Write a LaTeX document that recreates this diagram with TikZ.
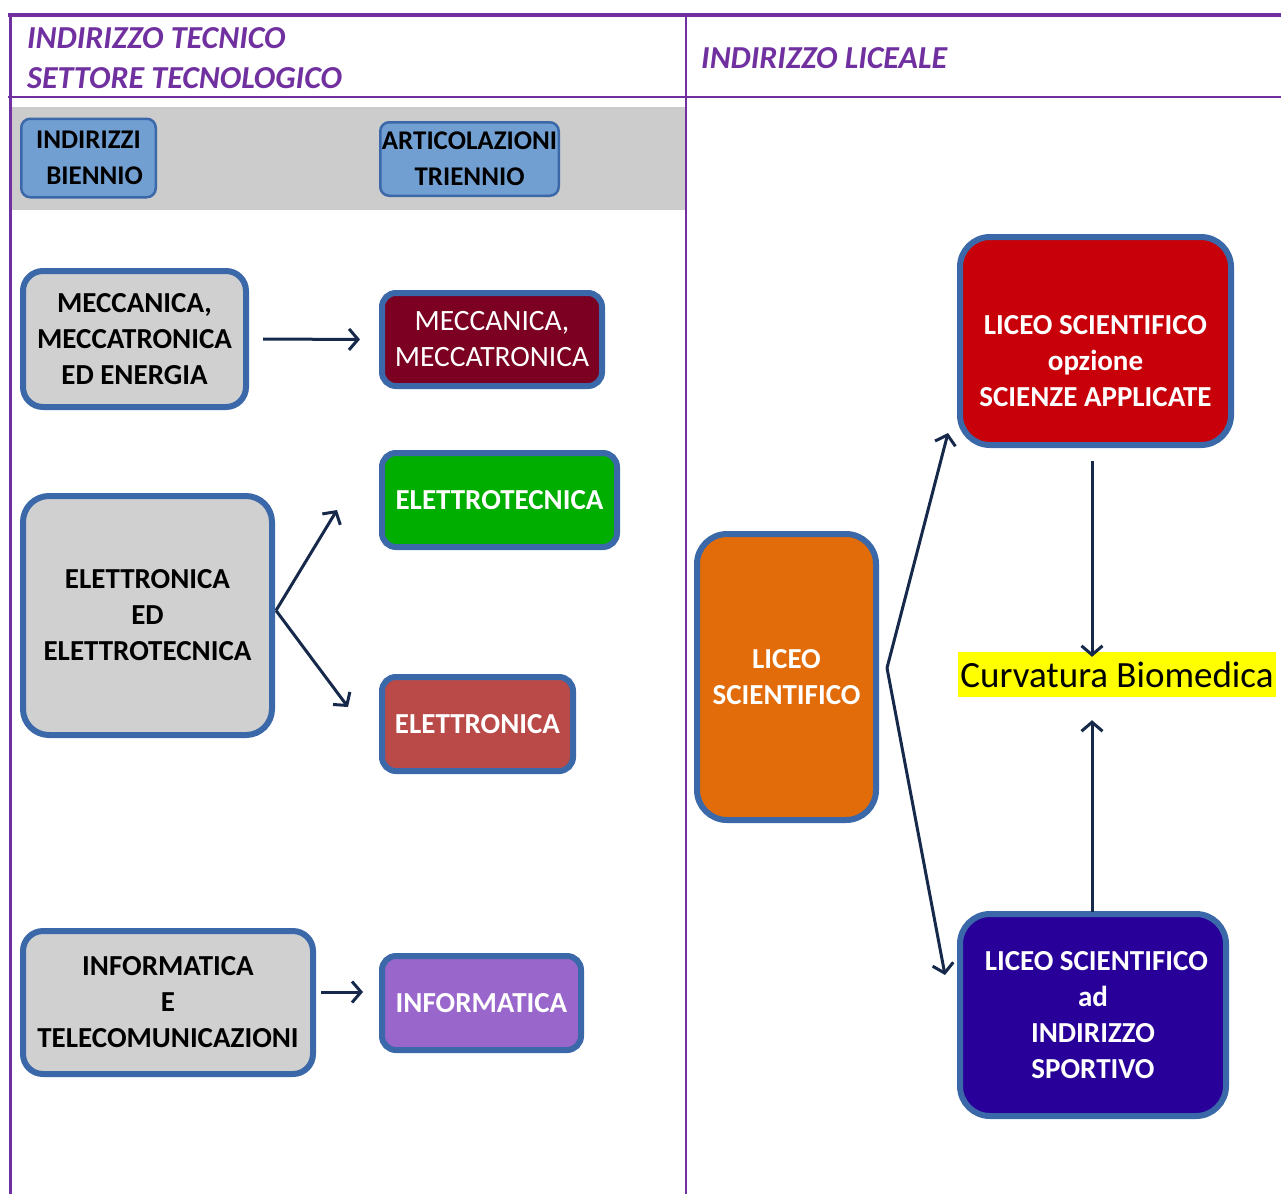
\documentclass[tikz,border=0pt]{standalone}
\usepackage{fontspec}
\setmainfont{Carlito}
\usetikzlibrary{arrows.meta,calc}
\definecolor{frame}{HTML}{7030A0}
\definecolor{bord}{HTML}{3A68A8}
\definecolor{lblue}{HTML}{729FD2}
\definecolor{lgray}{HTML}{D0D0D0}
\definecolor{band}{HTML}{CCCCCC}
\definecolor{maroon}{HTML}{7B0022}
\definecolor{grn}{HTML}{00AE00}
\definecolor{brick}{HTML}{B94A48}
\definecolor{lilac}{HTML}{9966CC}
\definecolor{orng}{HTML}{E36C0A}
\definecolor{rd}{HTML}{C8000A}
\definecolor{navy}{HTML}{280099}
\definecolor{arrc}{HTML}{17294A}
\definecolor{ylw}{HTML}{FFFF00}
\begin{document}
\begin{tikzpicture}[x=1pt,y=-1pt,
  box/.style={draw=bord, line width=6pt, rounded corners=#1, inner sep=0pt, align=center,
     font=\fontsize{29}{36}\selectfont\bfseries},
  box/.default=20pt,
  hdr/.style={draw=bord, line width=2.5pt, fill=lblue, rounded corners=9pt, inner sep=0pt, align=center,
     font=\fontsize{27}{36}\selectfont\bfseries},
  arr/.style={draw=arrc, line width=3pt, -{Straight Barb[length=9pt,width=21pt]}},
  ttl/.style={text=frame, font=\fontsize{32}{34}\selectfont\bfseries\itshape, anchor=base west, inner sep=0pt},
  wtxt/.style={text=white, align=center, inner sep=0pt, font=\fontsize{29}{36}\selectfont\bfseries}
]
\useasboundingbox (0,0) rectangle (1281,1194);
% frame
\fill[band] (12,107) rectangle (686,210);
\draw[frame, line width=4pt] (8,15) -- (1281,15);
\draw[frame, line width=2.5pt] (8,97) -- (1281,97);
\draw[frame, line width=3pt] (10,13) -- (10,1194);
\draw[frame, line width=2.5pt] (686,15) -- (686,1194);
\node[ttl] (t1) at (27,48) {INDIRIZZO TECNICO};
\node[ttl] (t2) at (27,88) {SETTORE TECNOLOGICO};
\node[ttl] (t3) at (701,68) {INDIRIZZO LICEALE};
% header boxes
\node[hdr, minimum width=134.5pt, minimum height=78.5pt] (bien) at (88.5,158) {INDIRIZZI\\\ \ BIENNIO};
\node[hdr, minimum width=178.5pt, minimum height=73.5pt] (trien) at (469.5,159) {ARTICOLAZIONI\\TRIENNIO};
% left column
\node[box, fill=lgray, minimum width=223pt, minimum height=136pt] (mecc) at (134.5,339) {MECCANICA,\\MECCATRONICA\\ED ENERGIA};
\node[box=14pt, fill=maroon, text=white, font=\fontsize{29.5}{36}\selectfont, minimum width=220pt, minimum height=93pt] (meccT) at (492,339.5) {MECCANICA,\\MECCATRONICA};
\node[box=26pt, fill=lgray, minimum width=249pt, minimum height=239pt] (elet) at (147.5,615.5) {ELETTRONICA\\ED\\ELETTROTECNICA};
\node[box=14pt, fill=grn, text=white, minimum width=235pt, minimum height=94pt] (etec) at (499.5,500) {ELETTROTECNICA};
\node[box=14pt, fill=brick, text=white, minimum width=191pt, minimum height=94pt] (eron) at (477.5,724) {ELETTRONICA};
\node[box, fill=lgray, minimum width=290pt, minimum height=143pt] (info) at (168,1002.5) {INFORMATICA\\E\\TELECOMUNICAZIONI};
\node[box=14pt, fill=lilac, text=white, minimum width=199pt, minimum height=94pt] (infT) at (481.5,1003) {INFORMATICA};
% right column
\node[box=30pt, fill=orng, text=white, minimum width=179pt, minimum height=286pt] (liceo) at (786.5,677) {LICEO\\SCIENTIFICO};
\node[box=30pt, fill=rd, minimum width=271pt, minimum height=208pt] (sa) at (1095.5,341) {};
\node[wtxt] (satxt) at ($(sa.center)+(0,20)$) {LICEO SCIENTIFICO\\opzione\\SCIENZE APPLICATE};
\node[box=30pt, fill=navy, text=white, minimum width=266pt, minimum height=202pt] (sp) at (1093,1015) {\ LICEO SCIENTIFICO\\ad\\INDIRIZZO\\SPORTIVO};
\node[fill=ylw, inner sep=0pt, minimum width=318pt, minimum height=45pt, font=\fontsize{37}{40}\selectfont] (curv) at (1117,674.5) {Curvatura Biomedica};
% connectors
\coordinate (tg) at (337,510);
\coordinate (te) at (348,707);
\coordinate (tsa) at (948,433);
\coordinate (tsp) at (945,975);
\coordinate (fk) at ($(liceo.east)+(8,-9)$);
\coordinate (ek) at ($(elet.east)+(1,-5)$);
\draw[arr, shorten <=14pt, shorten >=19pt] (mecc.east) -- (meccT.west);
\draw[arr] (ek) -- (tg);
\draw[arr] (ek) -- (te);
\draw[arr, shorten <=5pt, shorten >=16pt] (info.east |- 0,992) -- (infT.west |- 0,992);
\draw[arr] (fk) -- (tsa);
\draw[arr] (fk) -- (tsp);
\draw[arr, shorten <=13pt, shorten >=-5pt] (sa.south -| 1092,0) -- (curv.north -| 1092,0);
\draw[arr, shorten <=-1pt, shorten >=23pt] (sp.north -| 1092,0) -- (curv.south -| 1092,0);
\end{tikzpicture}
\end{document}
